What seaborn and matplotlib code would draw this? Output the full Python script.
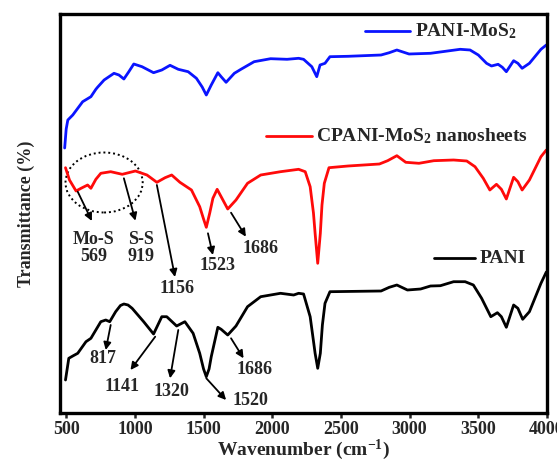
import numpy as np
import pandas as pd
import matplotlib
matplotlib.use("Agg")
import matplotlib.pyplot as plt
from matplotlib.patches import Ellipse
import seaborn as sns

# FTIR spectra (wavenumber in cm-1, transmittance in arbitrary offset units)
wn_pani_mos2 = [489, 500, 512, 548, 620, 680, 716, 728, 776, 848, 884, 920, 956, 992, 1052, 1136, 1196,
                1256, 1316, 1388, 1448, 1490, 1520, 1556, 1604, 1628, 1664, 1724, 1772, 1868, 1988, 2108,
                2192, 2228, 2288, 2324, 2348, 2384, 2420, 2552, 2792, 2852, 2907, 2996, 3152, 3368,
                3440, 3500, 3560, 3596, 3644, 3675, 3704, 3757, 3788, 3819, 3872, 3956, 3995]
t_pani_mos2 = [265, 284, 293, 298, 311.3, 316.3, 323.7, 325.7, 333, 339.7, 338, 334, 341.3, 349, 346.3,
               340.3, 343, 347.7, 343.7, 341.3, 334.7, 326, 318, 328, 340.3, 336.3, 330.7, 339.7, 343.7,
               351.3, 354.3, 353.7, 354.7, 353.7, 346.3, 336.3, 348, 349.7, 356.3, 356.7, 358, 360.3,
               363, 359, 359.7, 363.7, 363, 358, 349.7, 347, 348.7, 345.7, 341.3, 352.3, 349.7, 344.7,
               349.7, 363.7, 368]

wn_cpani = [495, 524, 572, 608, 656, 680, 716, 752, 824, 908, 1004, 1088, 1160, 1220, 1268, 1328,
            1412, 1472, 1500, 1520, 1545, 1568, 1599, 1628, 1676, 1736, 1820, 1916, 2060, 2192, 2240, 2276,
            2300, 2312, 2331, 2350, 2362, 2379, 2413, 2552, 2780, 2840, 2907, 2972, 3068, 3176, 3320, 3416,
            3476, 3536, 3584, 3632, 3668, 3704, 3757, 3788, 3819, 3872, 3956, 3995]
t_cpani = [245.3, 233, 222, 224.7, 228, 224.7, 233.7, 239.7, 241.3, 238.7, 242, 238, 230.7, 235.3,
           238, 230.7, 223, 206.3, 194, 185.7, 200, 214.7, 223.7, 216.3, 204, 213, 229.7, 238, 241.3,
           243.7, 241.3, 226.3, 200, 179.7, 149.7, 179.7, 208, 229.7, 245.3, 247, 249, 252.3, 257.3,
           250.7, 249.7, 252.3, 253, 252, 246.3, 234.7, 223, 228.7, 223.7, 214, 235.7, 231.3, 223, 233,
           256.3, 263]

wn_pani = [495, 519, 548, 584, 644, 680, 716, 752, 788, 817, 860, 895, 920, 950, 980, 1064, 1136, 1196,
           1232, 1304, 1364, 1424, 1472, 1500, 1520, 1540, 1556, 1604, 1628, 1676, 1736, 1820, 1916, 2060,
           2156, 2192, 2228, 2276, 2300, 2312, 2331, 2350, 2365, 2384, 2420, 2792, 2852, 2907, 2984, 3080,
           3152, 3224, 3320, 3404, 3464, 3524, 3591, 3639, 3668, 3704, 3757, 3788, 3823, 3872, 3956, 3995]
t_pani = [33, 54.7, 57, 59.7, 71.3, 74.7, 83, 91.3, 93, 91.3, 101.3, 107.5, 109, 108, 104.7, 91.3, 79,
          96.3, 96.3, 87, 91.3, 79.7, 59.7, 44, 36.3, 44, 56.3, 85.7, 83.7, 78, 87, 106.3, 116.3, 119.7,
          118, 119.7, 119, 96.3, 72, 59.7, 44.7, 59.7, 88, 109.7, 121.3, 122, 125.7, 128, 123, 124, 127,
          127.3, 131.3, 131.3, 128, 114.7, 96.3, 100.3, 96.3, 85.7, 108, 104.7, 93.7, 101.3, 129.7, 141]

# peak labels: text, arrow tail (wn, T), arrow head (wn, T), text centre (wn, T)
peak_labels = ["Mo-S\n569", "S-S\n919", "1156", "1523", "1686",
               "817", "1141", "1320", "1520", "1686"]
arrow_tail = [(584, 221.3), (920, 234.7), (1160, 228), (1532, 179.7), (1700, 200.3),
              (824, 88), (1148, 76.3), (1316, 83), (1520, 34.7), (1700, 74.7)]
arrow_head = [(687, 192), (1004, 192.3), (1292, 136), (1568, 158), (1808, 176.3),
              (788, 63), (968, 43), (1256, 34.7), (1664, 13), (1791, 54.7)]
label_pos = [(702, 165), (1047, 165), (1304, 125), (1604, 148), (1916, 164.7),
             (764, 54.7), (908, 26.3), (1268, 21.3), (1844, 13), (1868, 43.7)]

series_names = ["PANI-MoS$_\\mathregular{2}$", "CPANI-MoS$_\\mathregular{2}$ nanosheets", "PANI"]
series_colors = ["#0a14ff", "#ff0a0a", "#000000"]
# legend key line start/end and label y for each series
key_x = [(2674, 3006), (1954, 2286), (3178, 3474)]
key_y = [382, 277, 155]

sns.set_style("ticks")
plt.rcParams['font.family'] = ['Liberation Serif', 'DejaVu Serif']
plt.rcParams['font.weight'] = 'bold'
plt.rcParams['mathtext.fontset'] = 'custom'
plt.rcParams['mathtext.rm'] = 'Liberation Serif:bold'
plt.rcParams['mathtext.it'] = 'Liberation Serif:italic:bold'
plt.rcParams['mathtext.bf'] = 'Liberation Serif:bold'

fig = plt.figure(figsize=(5.57, 4.65), dpi=100)
ax = fig.add_axes([60 / 557, 1 - 413 / 465, 487 / 557, 399 / 465])

frames = [
    pd.DataFrame({"wn": wn_pani_mos2, "T": t_pani_mos2}),
    pd.DataFrame({"wn": wn_cpani, "T": t_cpani}),
    pd.DataFrame({"wn": wn_pani, "T": t_pani}),
]
for df, c in zip(frames, series_colors):
    sns.lineplot(data=df, x="wn", y="T", color=c, lw=2.0, ax=ax, sort=False)

for name, c, (x0, x1), y in zip(series_names, series_colors, key_x, key_y):
    ax.plot([x0, x1], [y, y], color=c, lw=2.0)
    ax.text(x1 + 36, y, name, fontsize=14, fontweight='bold', va='center', ha='left')

for txt, tail, head, pos in zip(peak_labels, arrow_tail, arrow_head, label_pos):
    ax.annotate("", xy=head, xytext=tail,
                arrowprops=dict(arrowstyle='-|>', color='black', lw=1.3, mutation_scale=11,
                                shrinkA=0, shrinkB=0))
    ax.text(pos[0], pos[1], txt, fontsize=13, fontweight='bold', ha='center', va='center',
            linespacing=1.0)

ax.add_patch(Ellipse((776, 230.5), 562, 60, fill=False, ls=(0, (1, 1.5)), lw=1.4, color='black'))

ax.set_xlim(455, 4000)
ax.set_ylim(0, 399)
ax.set_xticks([500, 1000, 1500, 2000, 2500, 3000, 3500, 4000])
ax.set_yticks([])
ax.tick_params(axis='x', direction='out', length=3.5, width=1.8, labelsize=13, pad=2)
for lbl in ax.get_xticklabels():
    lbl.set_fontweight('bold')
for s in ax.spines.values():
    s.set_linewidth(2.4)
    s.set_color('black')
ax.set_xlabel("Wavenumber (cm$^{\\mathregular{-1}}$)", fontsize=14, fontweight='bold', labelpad=0)
ax.set_ylabel("Transmittance (%)", fontsize=13, fontweight='bold', labelpad=18)

fig.savefig("out.png", dpi=100)
